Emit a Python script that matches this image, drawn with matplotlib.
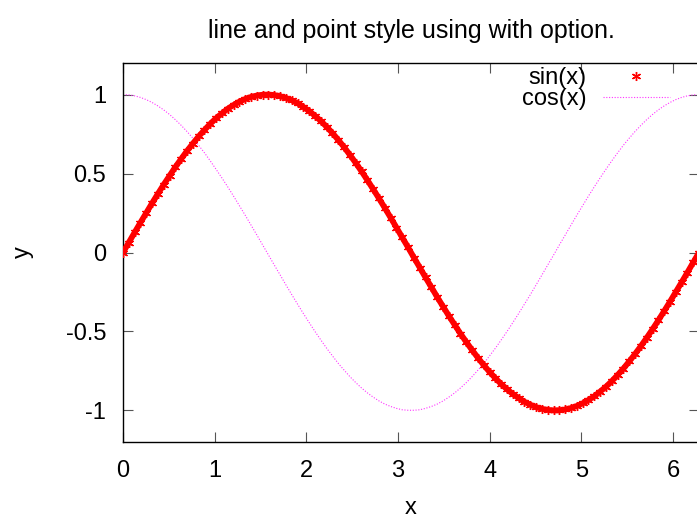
import matplotlib
matplotlib.use("Agg")
import matplotlib.pyplot as plt

plt.rcParams['font.family'] = ['Liberation Sans', 'DejaVu Sans']

title = "line and point style using with option."
x_label = "x"
y_label = "y"
sin_label = "sin(x)"
cos_label = "cos(x)"
x_ticks = [0, 1, 2, 3, 4, 5, 6]
y_ticks = [-1, -0.5, 0, 0.5, 1]
y_tick_labels = ["-1", "-0.5", "0", "0.5", "1"]

x_vals = [
    0.000, 0.063, 0.127, 0.190, 0.254, 0.317, 0.381, 0.444, 0.508, 0.571,
    0.635, 0.698, 0.762, 0.825, 0.889, 0.952, 1.015, 1.079, 1.142, 1.206,
    1.269, 1.333, 1.396, 1.460, 1.523, 1.587, 1.650, 1.714, 1.777, 1.841,
    1.904, 1.967, 2.031, 2.094, 2.158, 2.221, 2.285, 2.348, 2.412, 2.475,
    2.539, 2.602, 2.666, 2.729, 2.793, 2.856, 2.920, 2.983, 3.046, 3.110,
    3.173, 3.237, 3.300, 3.364, 3.427, 3.491, 3.554, 3.618, 3.681, 3.745,
    3.808, 3.872, 3.935, 3.998, 4.062, 4.125, 4.189, 4.252, 4.316, 4.379,
    4.443, 4.506, 4.570, 4.633, 4.697, 4.760, 4.824, 4.887, 4.950, 5.014,
    5.077, 5.141, 5.204, 5.268, 5.331, 5.395, 5.458, 5.522, 5.585, 5.649,
    5.712, 5.776, 5.839, 5.902, 5.966, 6.029, 6.093, 6.156, 6.220, 6.283,
]

sin_vals = [
    0.000, 0.063, 0.127, 0.189, 0.251, 0.312, 0.372, 0.430, 0.486, 0.541,
    0.593, 0.643, 0.690, 0.735, 0.776, 0.815, 0.850, 0.881, 0.910, 0.934,
    0.955, 0.972, 0.985, 0.994, 0.999, 1.000, 0.997, 0.990, 0.979, 0.964,
    0.945, 0.922, 0.896, 0.866, 0.833, 0.796, 0.756, 0.713, 0.667, 0.618,
    0.567, 0.514, 0.458, 0.401, 0.342, 0.282, 0.220, 0.158, 0.095, 0.032,
    -0.032, -0.095, -0.158, -0.220, -0.282, -0.342, -0.401, -0.458, -0.514, -0.567,
    -0.618, -0.667, -0.713, -0.756, -0.796, -0.833, -0.866, -0.896, -0.922, -0.945,
    -0.964, -0.979, -0.990, -0.997, -1.000, -0.999, -0.994, -0.985, -0.972, -0.955,
    -0.934, -0.910, -0.881, -0.850, -0.815, -0.776, -0.735, -0.690, -0.643, -0.593,
    -0.541, -0.486, -0.430, -0.372, -0.312, -0.251, -0.189, -0.127, -0.063, -0.000,
]

cos_vals = [
    1.000, 0.998, 0.992, 0.982, 0.968, 0.950, 0.928, 0.903, 0.874, 0.841,
    0.805, 0.766, 0.724, 0.679, 0.631, 0.580, 0.527, 0.472, 0.416, 0.357,
    0.297, 0.236, 0.174, 0.111, 0.048, -0.016, -0.079, -0.142, -0.205, -0.267,
    -0.327, -0.386, -0.444, -0.500, -0.554, -0.606, -0.655, -0.702, -0.745, -0.786,
    -0.824, -0.858, -0.889, -0.916, -0.940, -0.960, -0.975, -0.987, -0.996, -0.999,
    -0.999, -0.996, -0.987, -0.975, -0.960, -0.940, -0.916, -0.889, -0.858, -0.824,
    -0.786, -0.745, -0.702, -0.655, -0.606, -0.554, -0.500, -0.444, -0.386, -0.327,
    -0.267, -0.205, -0.142, -0.079, -0.016, 0.048, 0.111, 0.174, 0.236, 0.297,
    0.357, 0.416, 0.472, 0.527, 0.580, 0.631, 0.679, 0.724, 0.766, 0.805,
    0.841, 0.874, 0.903, 0.928, 0.950, 0.968, 0.982, 0.992, 0.998, 1.000,
]

FS_TITLE = 18
FS = 17

fig = plt.figure(figsize=(6.97, 5.19), dpi=100)
ax = fig.add_axes([123 / 697, 77 / 519, 576 / 697, 379 / 519])

# dense star band of the sin(x) samples
ax.plot(x_vals, sin_vals, linestyle='-', linewidth=4.2, color='#ff0000',
        solid_capstyle='round', zorder=3)
ax.plot(x_vals, sin_vals, linestyle='none', marker=(6, 2, 0), markersize=6.5,
        markeredgewidth=1.0, color='#ff0000', label=sin_label, zorder=4)
ax.plot(x_vals, cos_vals, linestyle=(0, (1, 1.5)), linewidth=0.8,
        color='#ff33ff', label=cos_label, zorder=2)

ax.set_xlim(0, 6.283)
ax.set_ylim(-1.2, 1.2)
ax.set_xticks(x_ticks)
ax.set_yticks(y_ticks)
ax.set_yticklabels(y_tick_labels)
ax.tick_params(direction='in', length=7, width=0.8, color='#555555',
               top=True, right=True, labelsize=FS)
ax.tick_params(axis='x', pad=13)
ax.tick_params(axis='y', pad=12)
for s in ax.spines.values():
    s.set_linewidth(1.0)
    s.set_color('black')

ax.set_title(title, fontsize=FS_TITLE, pad=18)
ax.set_xlabel(x_label, fontsize=FS, labelpad=11)
ax.set_ylabel(y_label, fontsize=FS, labelpad=23)

leg = ax.legend(loc='upper right', bbox_to_anchor=(547 / 576, 0.99),
                frameon=False, markerfirst=False, fontsize=FS,
                handlelength=2.85, handletextpad=0.68, labelspacing=-0.04,
                borderaxespad=0.0, borderpad=0.0)
for t in leg.get_texts():
    t.set_ha('right')

fig.savefig('out.png', dpi=100)
